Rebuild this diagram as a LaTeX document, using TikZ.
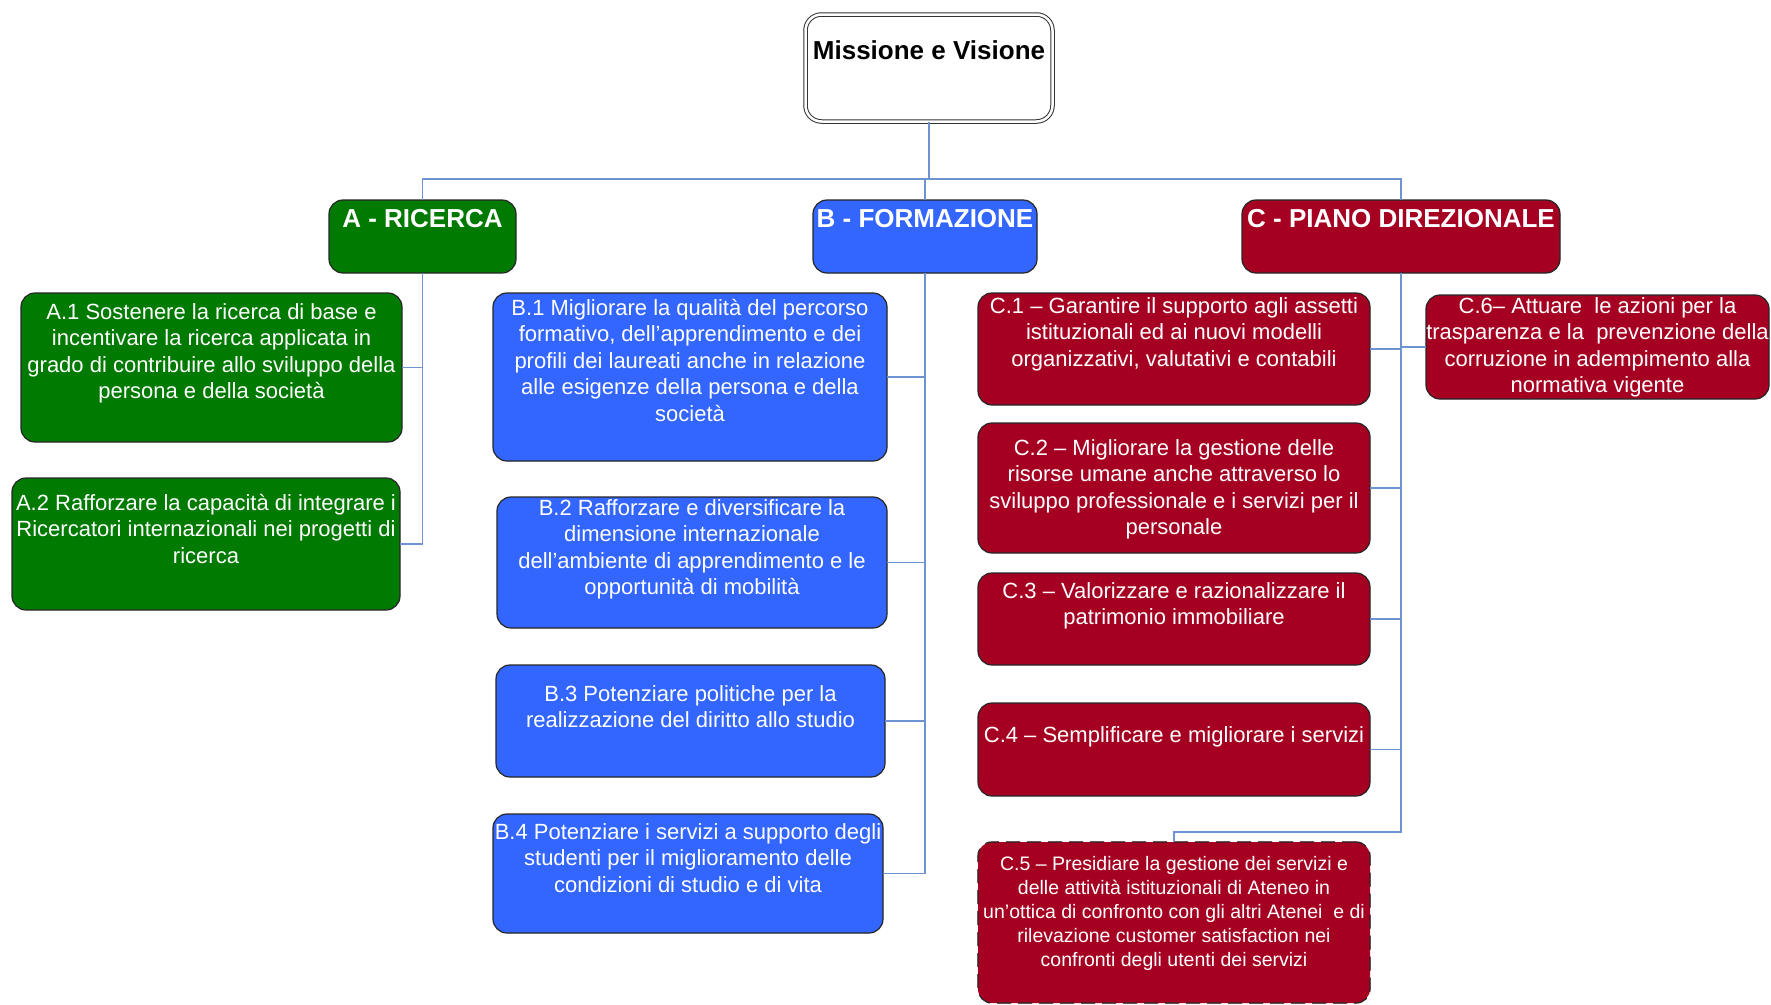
\documentclass[tikz,border=0pt]{standalone}
\usepackage{fontspec}
\setmainfont{Liberation Sans}

\definecolor{ricgreen}{RGB}{0,122,0}
\definecolor{formblue}{RGB}{51,102,255}
\definecolor{dirred}{RGB}{165,0,33}
\definecolor{linkblue}{RGB}{111,147,208}

% fixed size box text: width, height, first baseline, lines
\newcommand{\boxtext}[4]{\parbox[c][#2pt][t]{#1pt}{\centering\rule{0pt}{#3pt}#4}}

\tikzset{
  goal/.style={draw=black!85, line width=1.2pt, rounded corners=14pt,
    inner sep=0pt, outer sep=0pt, anchor=north west, text=white,
    font=\fontsize{22}{26.5}\selectfont},
  head/.style={goal, font=\bfseries\fontsize{26}{30}\selectfont},
  ric/.style={goal, fill=ricgreen},
  form/.style={goal, fill=formblue},
  dir/.style={goal, fill=dirred},
  link/.style={draw=linkblue, line width=1.5pt}
}

\begin{document}
\begin{tikzpicture}[x=1pt, y=-1pt]
    \useasboundingbox (0,0) rectangle (1771,1004);

    \node[draw=black!80, fill=white, line width=1pt, double, double distance=2.5pt,
      rounded corners=16pt, inner sep=0pt, font=\bfseries\fontsize{26}{31}\selectfont]
      (mv) at (929,68) {\boxtext{247}{107}{45}{Missione e Visione}};

    % area headers
    \node[head, fill=ricgreen] (ra) at (329,200) {\boxtext{187}{73}{27}{A - RICERCA}};
    \node[head, fill=formblue] (fo) at (813,200) {\boxtext{224}{73}{27}{B - FORMAZIONE}};
    \node[head, fill=dirred] (pd) at (1242,200) {\boxtext{318}{73}{27}{C - PIANO DIREZIONALE}};

    % A
    \node[ric] (a1) at (21,293) {\boxtext{381}{149}{26}{A.1 Sostenere la ricerca di base e\\incentivare la ricerca applicata in\\grado di contribuire allo sviluppo della\\persona e della società}};
    \node[ric] (a2) at (12,478) {\boxtext{388}{132}{32}{A.2 Rafforzare la capacità di integrare i\\Ricercatori internazionali nei progetti di\\ricerca}};

    % B
    \node[form] (b1) at (493,293) {\boxtext{394}{168}{22}{B.1 Migliorare la qualità del percorso\\formativo, dell'apprendimento e dei\\profili dei laureati anche in relazione\\alle esigenze della persona e della\\società}};
    \node[form] (b2) at (497,497) {\boxtext{390}{131}{18}{B.2 Rafforzare e diversificare la\\dimensione internazionale\\dell'ambiente di apprendimento e le\\opportunità di mobilità}};
    \node[form] (b3) at (496,665) {\boxtext{389}{112}{36}{B.3 Potenziare politiche per la\\realizzazione del diritto allo studio}};
    \node[form] (b4) at (493,814) {\boxtext{390}{119}{25}{B.4 Potenziare i servizi a supporto degli\\studenti per il miglioramento delle\\condizioni di studio e di vita}};

    % C
    \node[dir] (c1) at (978,293) {\boxtext{392}{112}{20}{C.1 – Garantire il supporto agli assetti\\istituzionali ed ai nuovi modelli\\organizzativi, valutativi e contabili}};
    \node[dir] (c2) at (978,423) {\boxtext{392}{130}{32}{C.2 – Migliorare la gestione delle\\risorse umane anche attraverso lo\\sviluppo professionale e i servizi per il\\personale}};
    \node[dir] (c3) at (978,573) {\boxtext{392}{92}{25}{C.3 – Valorizzare e razionalizzare il\\patrimonio immobiliare}};
    \node[dir] (c4) at (978,703) {\boxtext{392}{93}{39}{C.4 – Semplificare e migliorare i servizi}};
    \node[dir, dash pattern=on 14pt off 7pt, preaction={draw=dirred!45!white, line width=1.2pt},
      font=\fontsize{19.5}{24}\selectfont]
      (c5) at (978,842) {\boxtext{392}{161}{28}{C.5 – Presidiare la gestione dei servizi e\\delle attività istituzionali di Ateneo in\\un'ottica di confronto con gli altri Atenei\ \ e di\\rilevazione customer satisfaction nei\\confronti degli utenti dei servizi}};
    \node[dir] (c6) at (1426,295) {\boxtext{343}{104}{18}{C.6– Attuare\ \ le azioni per la\\trasparenza e la\ \ prevenzione della\\corruzione in adempimento alla\\normativa vigente}};

    \coordinate (hub) at (926,179);
    \draw[link] (mv.south) -- (mv.south |- hub);
    \draw[link] (ra.north) |- (hub) -| (pd.north);
    \draw[link] (hub) -| (fo.north);

    \draw[link] (ra.south) |- (a1.east);
    \draw[link] (ra.south) |- (a2.east);

    \draw[link] (fo.south) |- (b1.east);
    \draw[link] (fo.south) |- (b2.east);
    \draw[link] (fo.south) |- (b3.east);
    \draw[link] (fo.south) |- (b4.east);

    \draw[link] (pd.south) |- (c1.east);
    \draw[link] (pd.south) |- (c6.west);
    \draw[link] (pd.south) |- (c2.east);
    \draw[link] (pd.south) |- (c3.east);
    \draw[link] (pd.south) |- (c4.east);
    \draw[link] (pd.south) -- ++(0,559) -| (c5.north);
\end{tikzpicture}
\end{document}
